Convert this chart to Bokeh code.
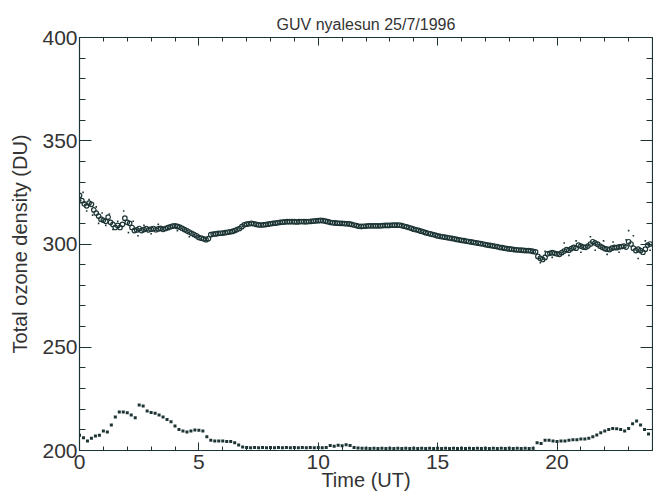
import numpy as np
from bokeh.plotting import figure
from bokeh.models import LinearAxis, Range1d, FixedTicker
from bokeh.embed import file_html
from bokeh.resources import INLINE

# ---------------- data ----------------
# total ozone (averaged points), one every 0.1 h starting at 0 UT
ozone_step_h = 0.1
ozone = [
    323.5, 321.0, 319.5, 318.5, 319.8, 319.2, 316.5, 315.0, 313.5, 312.0,
    311.5, 311.0, 313.0, 310.5, 309.5, 308.0, 309.0, 308.0, 309.5, 312.5,
    310.5, 310.0, 308.0, 306.5, 306.8, 307.5, 306.5, 307.0, 307.5, 306.8,
    307.2, 307.5, 306.9, 307.3, 307.6, 307.1, 307.5, 307.9, 308.3, 308.7,
    308.8, 308.5, 308.2, 307.6, 307.0, 306.4, 305.8, 305.2, 304.6, 304.0,
    303.2, 302.8, 302.5, 302.1, 302.6, 304.5, 304.8, 304.9, 305.1, 305.2,
    305.3, 305.5, 305.7, 305.9, 306.1, 306.5, 307.0, 307.5, 308.4, 309.3,
    309.6, 309.8, 310.0, 309.8, 309.5, 309.3, 309.2, 309.3, 309.4, 309.6,
    309.8, 310.0, 310.1, 310.3, 310.5, 310.6, 310.7, 310.8, 310.8, 310.8,
    310.8, 310.7, 310.8, 310.9, 310.8, 310.8, 310.9, 311.0, 311.1, 311.2,
    311.3, 311.4, 311.3, 311.1, 310.8, 310.5, 310.3, 310.2, 310.1, 310.0,
    310.0, 309.9, 309.8, 309.7, 309.5, 309.2, 308.9, 308.6, 308.5, 308.6,
    308.7, 308.8, 308.8, 308.8, 308.8, 308.8, 308.8, 308.9, 309.0, 309.0,
    309.0, 309.1, 309.1, 309.1, 309.1, 308.9, 308.6, 308.3, 308.0, 307.6,
    307.2, 306.9, 306.6, 306.2, 305.9, 305.5, 305.2, 304.9, 304.6, 304.3,
    303.9, 303.7, 303.5, 303.3, 303.1, 302.9, 302.7, 302.5, 302.2, 302.0,
    301.8, 301.6, 301.4, 301.2, 301.0, 300.8, 300.6, 300.4, 300.2, 300.0,
    299.7, 299.5, 299.3, 299.1, 298.9, 298.7, 298.4, 298.2, 298.0, 297.8,
    297.6, 297.5, 297.3, 297.2, 297.1, 297.0, 296.9, 296.8, 296.8, 296.7,
    296.4, 296.2, 294.0, 293.1, 292.5, 293.5, 295.2, 295.5, 295.8, 295.5,
    295.2, 295.0, 295.8, 296.6, 297.3, 297.0, 297.8, 298.4, 298.0, 299.5,
    299.0, 298.5, 298.4, 299.0, 300.0, 301.1, 300.5, 299.9, 299.0, 298.4,
    297.8, 297.5, 297.3, 298.0, 298.4, 298.2, 298.6, 298.8, 299.0, 298.5,
    301.1, 300.0, 298.0, 296.8, 297.5, 296.8, 296.0, 297.5, 299.5, 300.0,
]

# scattered single measurements (small dots)
single_time = [0.05, 0.15, 0.3, 0.4, 0.55, 0.7, 0.8, 0.95, 1.1, 1.25, 1.4, 1.6,
               1.85, 2.05, 2.25, 2.45, 2.7, 3.0, 3.3, 4.1, 4.6,
               19.3, 19.5, 19.8, 20.3, 20.5, 20.8, 21.0, 21.4, 21.6, 21.95,
               22.1, 22.35, 22.6, 22.9, 23.0, 23.2, 23.4, 23.7, 23.9]
single_ozone = [321.0, 325.0, 316.0, 321.5, 314.0, 318.0, 310.0, 315.0, 309.0, 314.5, 307.0, 311.0,
                316.0, 305.5, 311.0, 304.0, 309.0, 305.0, 309.5, 306.5, 303.5,
                291.0, 296.5, 293.5, 300.5, 294.5, 301.5, 296.0, 303.5, 297.0, 301.5,
                295.0, 301.0, 296.0, 302.0, 306.5, 304.0, 293.0, 301.5, 297.0]

# lower series, one every 1/6 h starting at 0 UT
lower_step_h = 1.0 / 6.0
lower = [
    207.4, 206.2, 204.6, 205.9, 207.0, 207.4,
    209.5, 209.0, 212.3, 216.2, 218.6, 218.6,
    218.3, 217.2, 215.8, 222.0, 221.6, 219.1,
    218.4, 218.0, 217.2, 216.2, 215.0, 213.9,
    211.9, 210.2, 209.5, 209.0, 209.5, 209.9,
    209.8, 209.5, 206.6, 205.0, 204.6, 204.6,
    204.6, 204.3, 204.3, 203.8, 202.7, 201.7,
    201.4, 201.3, 201.4, 201.3, 201.4, 201.3,
    201.4, 201.3, 201.4, 201.3, 201.4, 201.3,
    201.4, 201.3, 201.4, 201.3, 201.4, 201.3,
    201.4, 201.3, 201.4, 202.4, 202.0, 202.6,
    202.3, 202.8, 202.4, 201.4, 201.2, 201.1,
    201.1, 201.0, 201.1, 201.0, 201.1, 201.0,
    201.1, 201.0, 201.1, 201.0, 201.1, 201.0,
    201.1, 201.0, 201.1, 201.0, 201.1, 201.0,
    201.1, 201.0, 201.1, 201.0, 201.1, 201.0,
    201.1, 201.0, 201.1, 201.0, 201.1, 201.0,
    201.1, 201.0, 201.1, 201.0, 201.1, 201.0,
    201.1, 201.0, 201.1, 201.0, 201.1, 201.0,
    201.1, 203.8, 203.4, 205.0, 205.0, 204.6,
    204.3, 204.6, 204.6, 205.0, 205.2, 205.2,
    205.6, 205.6, 205.9, 206.7, 207.5, 208.6,
    209.5, 210.2, 210.7, 210.5, 210.2, 209.5,
    210.7, 213.0, 214.3, 212.3, 210.2, 208.0,
]

x_ticks = [0, 5, 10, 15, 20]
y_ticks = [200, 250, 300, 350, 400]

ozone_time = np.arange(len(ozone)) * ozone_step_h
lower_time = np.arange(len(lower)) * lower_step_h

# ---------------- figure ----------------
ink = "#1c3434"
txt = "#333333"
FONT = "Liberation Sans"

p = figure(width=653, height=496, output_backend="svg", toolbar_location=None,
           x_range=Range1d(0, 24), y_range=Range1d(200, 400),
           x_axis_location=None, y_axis_location=None,
           min_border_left=79, min_border_right=1, min_border_top=37, min_border_bottom=46)
p.title.text = "GUV nyalesun 25/7/1996"
p.title.align = "center"
p.title.text_font = FONT
p.title.text_font_size = "16px"
p.title.text_font_style = "normal"
p.title.text_color = txt
p.xgrid.visible = False
p.ygrid.visible = False
p.outline_line_color = None
p.background_fill_color = "white"
p.border_fill_color = "white"

def style_axis(ax, major_in, minor_in):
    ax.major_tick_in = major_in
    ax.major_tick_out = 0
    ax.minor_tick_in = minor_in
    ax.minor_tick_out = 0
    ax.axis_line_color = ink
    ax.major_tick_line_color = ink
    ax.minor_tick_line_color = ink
    ax.axis_line_width = 1.2
    ax.major_label_text_font = FONT
    ax.major_label_text_font_size = "21px"
    ax.major_label_text_color = txt
    ax.axis_label_text_font = FONT
    ax.axis_label_text_font_size = "20px"
    ax.axis_label_text_font_style = "normal"
    ax.axis_label_text_color = txt
    ax.major_label_standoff = 2

x_minor = list(range(0, 25))
y_minor = list(range(200, 401, 10))

xb = LinearAxis(axis_label="Time (UT)", ticker=FixedTicker(ticks=x_ticks, minor_ticks=x_minor))
style_axis(xb, 8, 4)
xb.major_label_standoff = 4
xb.axis_label_standoff = -3
xt = LinearAxis(ticker=FixedTicker(ticks=x_ticks, minor_ticks=x_minor),
                major_label_overrides={t: "" for t in x_ticks})
style_axis(xt, 8, 4)
yl = LinearAxis(axis_label="Total ozone density (DU)", ticker=FixedTicker(ticks=y_ticks, minor_ticks=y_minor))
style_axis(yl, 12, 6)
yl.axis_label_standoff = 8
yr = LinearAxis(ticker=FixedTicker(ticks=y_ticks, minor_ticks=y_minor),
                major_label_overrides={t: "" for t in y_ticks})
style_axis(yr, 12, 6)

p.add_layout(xb, "below")
p.add_layout(xt, "above")
p.add_layout(yl, "left")
p.add_layout(yr, "right")

p.scatter(single_time, single_ozone, marker="square", size=1.6, color=ink, line_width=0)
p.scatter(ozone_time, ozone, marker="circle", size=4.5, line_color=ink, fill_color=None, line_width=1.2)
p.scatter(lower_time, lower, marker="square", size=3, color=ink, line_width=0)

open("out.html", "w").write(file_html(p, INLINE))
